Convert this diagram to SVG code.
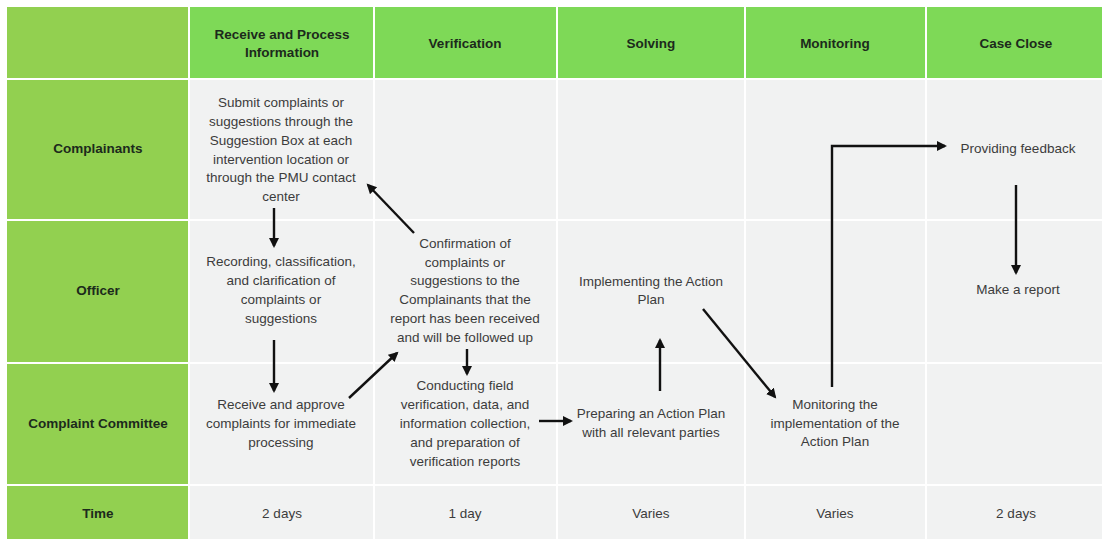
<svg xmlns="http://www.w3.org/2000/svg" width="1102" height="539" viewBox="0 0 1102 539">
<style>
.lab{fill:#92d050}
.hd{fill:#7ed957}
.cell{fill:#f1f2f2}
.ht{font-family:"Liberation Sans",Arial,sans-serif;font-size:13.5px;font-weight:bold;fill:#1c2a1c;text-anchor:middle;dominant-baseline:central}
.bt{font-family:"Liberation Sans",Arial,sans-serif;font-size:13.5px;fill:#3c3c3c;text-anchor:middle;dominant-baseline:central}
.ar{fill:none;stroke:#111;stroke-width:2.4;marker-end:url(#ah)}
</style>
<defs>
<marker id="ah" markerUnits="userSpaceOnUse" markerWidth="12" markerHeight="12" refX="8" refY="5" orient="auto">
<path d="M0,0 L10,5 L0,10 Z" fill="#111"/>
</marker>
</defs>
<rect width="1102" height="539" fill="#ffffff"/>
<g id="grid">
<rect class="lab" x="7" y="7" width="181" height="71"/>
<rect class="hd" x="190" y="7" width="183" height="71"/>
<rect class="hd" x="375" y="7" width="181" height="71"/>
<rect class="hd" x="558" y="7" width="186" height="71"/>
<rect class="hd" x="746" y="7" width="179" height="71"/>
<rect class="hd" x="927" y="7" width="175" height="71"/>
<rect class="lab" x="7" y="80" width="181" height="139"/>
<rect class="lab" x="7" y="221" width="181" height="141"/>
<rect class="lab" x="7" y="364" width="181" height="120"/>
<rect class="lab" x="7" y="486" width="181" height="53"/>
<g class="cellgrid">
<rect class="cell" x="190" y="80" width="183" height="139"/><rect class="cell" x="375" y="80" width="181" height="139"/><rect class="cell" x="558" y="80" width="186" height="139"/><rect class="cell" x="746" y="80" width="179" height="139"/><rect class="cell" x="927" y="80" width="175" height="139"/>
<rect class="cell" x="190" y="221" width="183" height="141"/><rect class="cell" x="375" y="221" width="181" height="141"/><rect class="cell" x="558" y="221" width="186" height="141"/><rect class="cell" x="746" y="221" width="179" height="141"/><rect class="cell" x="927" y="221" width="175" height="141"/>
<rect class="cell" x="190" y="364" width="183" height="120"/><rect class="cell" x="375" y="364" width="181" height="120"/><rect class="cell" x="558" y="364" width="186" height="120"/><rect class="cell" x="746" y="364" width="179" height="120"/><rect class="cell" x="927" y="364" width="175" height="120"/>
<rect class="cell" x="190" y="486" width="183" height="53"/><rect class="cell" x="375" y="486" width="181" height="53"/><rect class="cell" x="558" y="486" width="186" height="53"/><rect class="cell" x="746" y="486" width="179" height="53"/><rect class="cell" x="927" y="486" width="175" height="53"/>
</g>
</g>
<g id="headers">
<text class="ht" x="282" y="34">Receive and Process</text>
<text class="ht" x="282" y="52">Information</text>
<text class="ht" x="465" y="43">Verification</text>
<text class="ht" x="651" y="43">Solving</text>
<text class="ht" x="835" y="43">Monitoring</text>
<text class="ht" x="1016" y="43">Case Close</text>
</g>
<g id="lanes">
<text class="ht" x="98" y="148">Complainants</text>
<text class="ht" x="98" y="290">Officer</text>
<text class="ht" x="98" y="423">Complaint Committee</text>
<text class="ht" x="98" y="513">Time</text>
</g>
<g id="n-submit">
<text class="bt" x="281" y="102">Submit complaints or</text>
<text class="bt" x="281" y="121">suggestions through the</text>
<text class="bt" x="281" y="140">Suggestion Box at each</text>
<text class="bt" x="281" y="159">intervention location or</text>
<text class="bt" x="281" y="177">through the PMU contact</text>
<text class="bt" x="281" y="196">center</text>
</g>
<g id="n-recording">
<text class="bt" x="281" y="261">Recording, classification,</text>
<text class="bt" x="281" y="280">and clarification of</text>
<text class="bt" x="281" y="299">complaints or</text>
<text class="bt" x="281" y="318">suggestions</text>
</g>
<g id="n-receive">
<text class="bt" x="281" y="404">Receive and approve</text>
<text class="bt" x="281" y="423">complaints for immediate</text>
<text class="bt" x="281" y="442">processing</text>
</g>
<g id="n-confirm">
<text class="bt" x="465" y="243">Confirmation of</text>
<text class="bt" x="465" y="262">complaints or</text>
<text class="bt" x="465" y="280">suggestions to the</text>
<text class="bt" x="465" y="299">Complainants that the</text>
<text class="bt" x="465" y="318">report has been received</text>
<text class="bt" x="465" y="337">and will be followed up</text>
</g>
<g id="n-conduct">
<text class="bt" x="465" y="385">Conducting field</text>
<text class="bt" x="465" y="404">verification, data, and</text>
<text class="bt" x="465" y="423">information collection,</text>
<text class="bt" x="465" y="442">and preparation of</text>
<text class="bt" x="465" y="461">verification reports</text>
</g>
<g id="n-implement">
<text class="bt" x="651" y="281">Implementing the Action</text>
<text class="bt" x="651" y="299">Plan</text>
</g>
<g id="n-prepare">
<text class="bt" x="651" y="413">Preparing an Action Plan</text>
<text class="bt" x="651" y="432">with all relevant parties</text>
</g>
<g id="n-monitor">
<text class="bt" x="835" y="404">Monitoring the</text>
<text class="bt" x="835" y="423">implementation of the</text>
<text class="bt" x="835" y="441">Action Plan</text>
</g>
<g id="n-feedback">
<text class="bt" x="1018" y="148">Providing feedback</text>
</g>
<g id="n-report">
<text class="bt" x="1018" y="289">Make a report</text>
</g>
<g id="time">
<text class="bt" x="282" y="513">2 days</text>
<text class="bt" x="465" y="513">1 day</text>
<text class="bt" x="651" y="513">Varies</text>
<text class="bt" x="835" y="513">Varies</text>
<text class="bt" x="1016" y="513">2 days</text>
</g>
<g id="connectors">
<path class="ar" d="M274,208 L274,246"/>
<path class="ar" d="M274,340 L274,391"/>
<path class="ar" d="M349,398 L397,353"/>
<path class="ar" d="M414,233 L368,185"/>
<path class="ar" d="M467,349 L467,374"/>
<path class="ar" d="M539,421 L571,421"/>
<path class="ar" d="M660,391 L660,340"/>
<path class="ar" d="M703,309 L775,397"/>
<path class="ar" d="M832,387 L832,146 L945,146"/>
<path class="ar" d="M1016,185 L1016,273"/>
</g>
</svg>
